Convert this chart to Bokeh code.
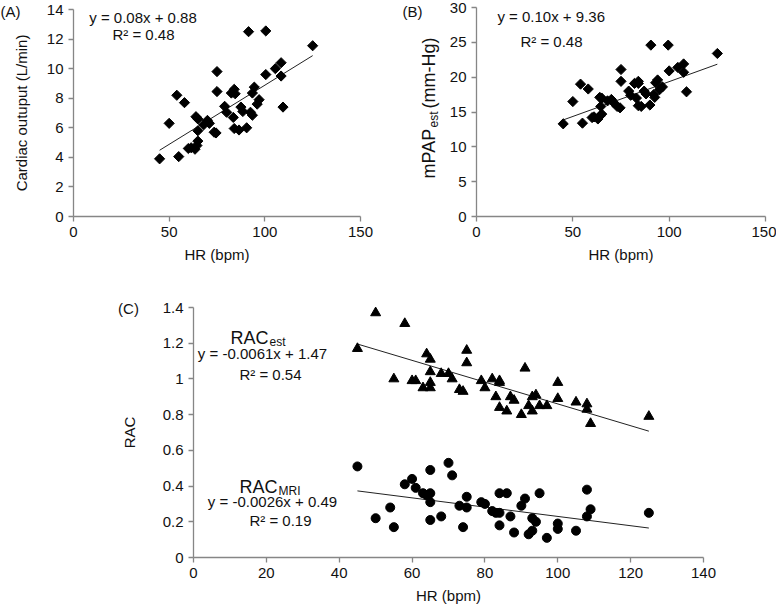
import numpy as np
from bokeh.plotting import figure
from bokeh.layouts import column, row
from bokeh.models import Label, Range1d, FixedTicker, LinearAxis, Grid
from bokeh.embed import file_html
from bokeh.resources import INLINE

# ---------------- data ----------------
hr_a = [45, 50, 54, 55, 58, 60, 61.5, 63.5, 64, 65, 65, 65, 64.5, 68, 70,
        71, 73.5, 74.5, 75, 75, 79, 80, 82.5, 83.5, 84, 84.5, 84, 86.5, 87.5, 88.5,
        90.5, 91.5, 92.5, 93.5, 93.5, 94.5, 96, 97, 100.5, 100.5, 105.5, 108.5, 108.5, 109.5, 125]
co_a = [3.9, 6.3, 8.2, 4.05, 7.7, 4.6, 4.65, 4.55, 6.75, 6.6, 5.8, 5.1, 4.8, 6.2, 6.5,
        6.3, 5.7, 5.65, 9.8, 8.45, 7.45, 7.05, 8.35, 6.7, 8.6, 8.3, 5.95, 5.85, 7.4, 7.1,
        6.0, 12.5, 7.05, 6.85, 8.35, 8.75, 7.6, 7.9, 12.55, 9.6, 10.0, 10.4, 9.5, 7.4, 11.55]

hr_b = [45, 50, 54, 55, 58, 60, 61, 63, 64, 65, 64.5, 65, 64, 68, 70,
        71, 73, 74.5, 75, 75, 79, 80, 82, 83, 84, 84, 84, 85.5, 87, 88,
        90, 90.5, 92, 92.5, 93, 94, 95, 96.5, 99.5, 100, 104.5, 107.5, 107.5, 109, 125]
mpap_b = [13.3, 16.5, 19.0, 13.4, 18.3, 14.2, 14.3, 14.0, 17.1, 17.0, 15.8, 14.7, 14.4, 16.6, 16.8,
          16.4, 15.8, 15.6, 21.1, 19.4, 18.0, 17.4, 19.1, 17.0, 19.4, 19.1, 15.9, 15.8, 18.0, 17.6,
          16.0, 24.6, 17.5, 17.1, 19.2, 19.6, 18.2, 18.6, 24.6, 20.9, 21.4, 21.9, 20.7, 17.9, 23.4]

hr_c_est = [45, 50, 58, 55, 60, 61, 63, 64, 65, 65, 65, 65, 68, 70, 71,
            73, 74, 75, 75, 79, 80, 82, 84, 84, 83, 84, 86, 87, 88, 90,
            91, 92, 93, 93, 94, 95, 97, 100, 100, 105, 108, 108, 109, 125]
rac_est = [1.17, 1.37, 1.31, 1.0, 0.99, 0.99, 0.95, 1.14, 1.11, 1.04, 0.98, 0.95, 1.03, 1.03, 1.0,
           0.94, 0.93, 1.16, 1.09, 0.99, 0.95, 1.0, 0.99, 0.98, 0.9, 0.84, 0.82, 0.9, 0.88, 0.8,
           1.06, 0.85, 0.9, 0.82, 0.91, 0.85, 0.85, 0.98, 0.89, 0.87, 0.86, 0.83, 0.75, 0.79]

hr_c_mri = [45, 50, 54, 55, 58, 60, 61, 63, 64, 65, 65, 65, 65, 68, 70,
            71, 73, 74, 75, 75, 79, 80, 82, 83, 84, 84, 84, 86, 87, 88,
            90, 91, 92, 93, 93, 94, 95, 97, 100, 100, 105, 108, 108, 109, 125]
rac_mri = [0.51, 0.22, 0.28, 0.17, 0.41, 0.44, 0.39, 0.36, 0.35, 0.49, 0.36, 0.31, 0.21, 0.23, 0.53,
           0.46, 0.29, 0.17, 0.34, 0.28, 0.31, 0.30, 0.26, 0.25, 0.25, 0.36, 0.18, 0.36, 0.23, 0.14,
           0.29, 0.33, 0.13, 0.15, 0.22, 0.20, 0.36, 0.11, 0.19, 0.16, 0.15, 0.38, 0.23, 0.27, 0.25]

# trend lines (slope, intercept) as printed on the chart
fit_a = (0.08, 0.88)
fit_b = (0.10, 9.36)
fit_est = (-0.0061, 1.47)
fit_mri = (-0.0026, 0.49)

a_xticks = [0, 50, 100, 150]
a_yticks = [0, 2, 4, 6, 8, 10, 12, 14]
b_xticks = [0, 50, 100, 150]
b_yticks = [0, 5, 10, 15, 20, 25, 30]
c_xticks = [0, 20, 40, 60, 80, 100, 120, 140]
c_yticks = [0, 0.2, 0.4, 0.6, 0.8, 1, 1.2, 1.4]
c_ytick_labels = ["0", "0.2", "0.4", "0.6", "0.8", "1", "1.2", "1.4"]

# ---------------- styling / layout ----------------
FONT = "Liberation Sans"
AXIS_GREY = "#868686"
TXT = "#111111"


def style_axis(ax):
    ax.axis_line_color = AXIS_GREY
    ax.axis_line_width = 1.3
    ax.major_tick_line_color = AXIS_GREY
    ax.major_tick_line_width = 1.3
    ax.major_tick_out = 5
    ax.major_tick_in = 0
    ax.minor_tick_line_color = None
    ax.major_label_text_font = FONT
    ax.major_label_text_font_size = "15px"
    ax.major_label_text_color = TXT
    ax.major_label_standoff = 5
    ax.axis_label_text_font = FONT
    ax.axis_label_text_font_size = "15px"
    ax.axis_label_text_font_style = "normal"
    ax.axis_label_text_color = TXT


def make_panel(cx, cy, w, h, box, xr, yr, xticks, yticks):
    """Frame covers the whole canvas; axes sit at the data origin with bounds."""
    L, R, T, B = box  # axis box in page pixels
    sx = (xr[1] - xr[0]) / (R - L)
    sy = (yr[1] - yr[0]) / (B - T)
    x_rng = Range1d(xr[0] - (L - cx) * sx, xr[1] + (cx + w - R) * sx)
    y_rng = Range1d(yr[0] - (cy + h - B) * sy, yr[1] + (T - cy) * sy)
    p = figure(width=w, height=h, x_range=x_rng, y_range=y_rng,
               x_axis_location=None, y_axis_location=None,
               output_backend="svg", toolbar_location=None,
               min_border_left=0, min_border_right=0, min_border_top=0, min_border_bottom=0)
    p.outline_line_color = None
    p.background_fill_color = "white"
    p.border_fill_color = "white"
    for g in p.select(Grid):
        g.visible = False
    p.renderers = [r for r in p.renderers if not isinstance(r, Grid)]
    p.center = [c for c in p.center if not isinstance(c, Grid)]
    xa = LinearAxis(fixed_location=yr[0], bounds=tuple(xr), ticker=FixedTicker(ticks=xticks))
    ya = LinearAxis(fixed_location=xr[0], bounds=tuple(yr), ticker=FixedTicker(ticks=yticks))
    style_axis(xa)
    style_axis(ya)
    p.add_layout(xa, "below")
    p.add_layout(ya, "left")

    def conv(px, py):
        return xr[0] + (px - L) * sx, yr[0] + (B - py) * sy
    return p, conv, xa, ya


def add_text(p, conv, px, py, text, size="15px", align="center", baseline="middle", angle=0.0):
    x, y = conv(px, py)
    p.add_layout(Label(x=x, y=y, x_units="data", y_units="data", text=text,
                       text_font=FONT, text_font_size=size, text_color=TXT,
                       text_align=align, text_baseline=baseline, angle=angle))


def trend(p, xs, fit):
    x = np.array([min(xs), max(xs)], dtype=float)
    p.line(x, fit[0] * x + fit[1], line_color="#222222", line_width=1)


# ---------- Panel A ----------
pA, cA, axA, ayA = make_panel(0, 0, 398, 278, (73, 360, 9, 216), (0, 150), (0, 14), a_xticks, a_yticks)
trend(pA, hr_a, fit_a)
pA.scatter(hr_a, co_a, marker="square", angle=np.pi / 4, size=7.2, color="black")
axA.axis_label = "HR (bpm)"
axA.axis_label_standoff = 6
ayA.axis_label = "Cardiac outuput (L/min)"
ayA.axis_label_standoff = 14
add_text(pA, cA, 142.5, 17, "y = 0.08x + 0.88")
add_text(pA, cA, 143, 34, "R² = 0.48")
add_text(pA, cA, 0, 11, "(A)", align="left")

# ---------- Panel B ----------
pB, cB, axB, ayB = make_panel(398, 0, 378, 278, (476, 765, 7, 216), (0, 150), (0, 30), b_xticks, b_yticks)
trend(pB, hr_b, fit_b)
pB.scatter(hr_b, mpap_b, marker="square", angle=np.pi / 4, size=7.2, color="black")
axB.axis_label = "HR (bpm)"
axB.axis_label_standoff = 6
add_text(pB, cB, 550.7, 16, "y = 0.10x + 9.36")
add_text(pB, cB, 551, 41, "R² = 0.48")
add_text(pB, cB, 412, 11, "(B)")
# rotated y label with subscript: mPAP_est (mm-Hg)
add_text(pB, cB, 428, 178, "mPAP", size="18px", angle=np.pi / 2, align="left")
add_text(pB, cB, 433, 127, "est", size="12px", angle=np.pi / 2, align="left")
add_text(pB, cB, 428, 108, "(mm-Hg)", size="18px", angle=np.pi / 2, align="left")

# ---------- Panel C ----------
pC, cC, axC, ayC = make_panel(0, 278, 720, 326, (193, 703, 307, 557), (0, 140), (0, 1.4), c_xticks, c_yticks)
ayC.major_label_overrides = {t: s for t, s in zip(c_yticks, c_ytick_labels)}
trend(pC, hr_c_est, fit_est)
trend(pC, hr_c_mri, fit_mri)
pC.scatter(hr_c_est, rac_est, marker="triangle", size=10, color="black")
pC.scatter(hr_c_mri, rac_mri, marker="circle", size=9, color="black")
axC.axis_label = "HR (bpm)"
axC.axis_label_standoff = 6
ayC.axis_label = "RAC"
ayC.axis_label_standoff = 22
add_text(pC, cC, 128, 308, "(C)")
add_text(pC, cC, 268, 337.7, "RAC", size="18px", align="right", baseline="alphabetic")
add_text(pC, cC, 269, 341, "est", size="12px", align="left", baseline="alphabetic")
add_text(pC, cC, 262, 353, "y = -0.0061x + 1.47")
add_text(pC, cC, 270, 374, "R² = 0.54")
add_text(pC, cC, 277, 486.7, "RAC", size="18px", align="right", baseline="alphabetic")
add_text(pC, cC, 278, 490, "MRI", size="12px", align="left", baseline="alphabetic")
add_text(pC, cC, 272, 501, "y = -0.0026x + 0.49")
add_text(pC, cC, 280, 520, "R² = 0.19")

layout = column(row(pA, pB), pC)
open("out.html", "w").write(file_html(layout, INLINE))
